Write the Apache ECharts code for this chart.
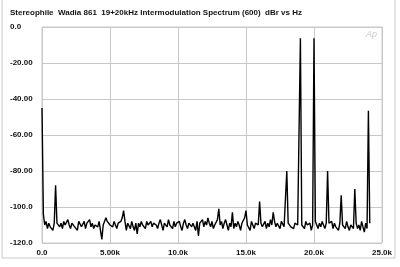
<!DOCTYPE html>
<html><head><meta charset="utf-8">
<script src="https://cdn.jsdelivr.net/npm/echarts@6/dist/echarts.min.js"></script>
<style>html,body{margin:0;padding:0;background:#fff}#c{width:400px;height:267px}</style>
</head><body><div id="c"></div>
<script>
const titleText = 'Stereophile  Wadia 861  19+20kHz Intermodulation Spectrum (600)  dBr vs Hz';
const freqStepHz = 100;
const levelsDb = [
 -45, -104, -110, -108, -112, -109, -111, -110, -113, -109,
 -88, -109, -108, -111, -109, -112, -108, -110, -111, -107,
 -110, -112, -109, -108, -111, -110, -113, -108, -109, -111,
 -110, -108, -112, -109, -110, -107, -111, -109, -112, -110,
 -109, -111, -108, -113, -118, -110, -109, -106, -108, -107,
 -110, -109, -111, -108, -110, -112, -109, -110, -108, -106,
 -102, -108, -113, -109, -110, -112, -108, -111, -113, -109,
 -115, -109, -111, -108, -110, -109, -112, -108, -110, -109,
 -108, -111, -109, -108, -110, -112, -109, -107, -110, -113,
 -109, -108, -111, -107, -110, -109, -112, -108, -111, -109,
 -110, -108, -111, -113, -109, -107, -110, -112, -109, -108,
 -111, -109, -110, -113, -108, -116, -109, -110, -107, -111,
 -108, -110, -106, -109, -111, -108, -112, -110, -109, -107,
 -101, -110, -108, -112, -109, -107, -110, -113, -109, -111,
 -103, -112, -109, -111, -108, -110, -113, -109, -108, -106,
 -102, -110, -109, -113, -108, -110, -112, -109, -108, -110,
 -97, -109, -111, -110, -108, -112, -109, -111, -107, -110,
 -103, -108, -111, -109, -110, -112, -108, -109, -111, -110,
 -80, -109, -108, -111, -110, -112, -109, -108, -110, -111,
 -6.3, -110, -109, -112, -108, -110, -111, -109, -113, -110,
 -6.3, -108, -110, -112, -109, -111, -108, -110, -112, -109,
 -80, -109, -110, -108, -112, -109, -111, -110, -113, -109,
 -93.5, -110, -109, -112, -108, -111, -113, -110, -109, -112,
 -90, -109, -112, -110, -113, -108, -111, -114, -109, -112,
 -46.5, -109
];
const xTickLabels = {0:'0.0',5000:'5.00k',10000:'10.0k',15000:'15.0k',20000:'20.0k',25000:'25.0k'};
const yTickLabels = {'0':'0.0','-20':'-20.00','-40':'-40.00','-60':'-60.00','-80':'-80.00','-100':'-100.0','-120':'-120.0'};

const chart = echarts.init(document.getElementById('c'), null, {renderer:'canvas'});
const font = '"Liberation Sans", Arial, sans-serif';
chart.setOption({
  animation:false,
  backgroundColor:'#fff',
  title:{text:titleText,left:10,top:9,padding:0,textStyle:{fontFamily:font,fontSize:8,fontWeight:'bold',color:'#111'}},
  grid:{left:42,right:18,top:27,bottom:24,containLabel:false,show:true,borderColor:'#c8c8c8',borderWidth:1},
  xAxis:{type:'value',min:0,max:25000,interval:5000,
    axisLine:{show:false},axisTick:{show:false},
    splitLine:{show:true,lineStyle:{color:'#c8c8c8',width:1}},
    axisLabel:{margin:6,fontFamily:font,fontSize:8,fontWeight:'bold',color:'#111',formatter:v=>xTickLabels[v]}},
  yAxis:{type:'value',min:-120,max:0,interval:20,
    axisLine:{show:false},axisTick:{show:false},
    splitLine:{show:true,lineStyle:{color:'#c8c8c8',width:1}},
    axisLabel:{margin:32,align:'left',fontFamily:font,fontSize:8,fontWeight:'bold',color:'#111',formatter:v=>yTickLabels[String(v)]}},
  graphic:[
    {type:'polyline',shape:{points:[[2,0],[2,258],[395,258],[395,0]]},style:{stroke:'#c8c8c8',fill:null,lineWidth:1},silent:true},
    {type:'text',left:366,top:30,style:{text:'Ap',fontFamily:font,fontSize:9,fontStyle:'italic',fill:'#c8c8c8'}}
  ],
  series:[{type:'line',symbol:'none',lineStyle:{color:'#000',width:1.4},
    data:levelsDb.map((v,i)=>[i*freqStepHz,v])}]
});
</script></body></html>
